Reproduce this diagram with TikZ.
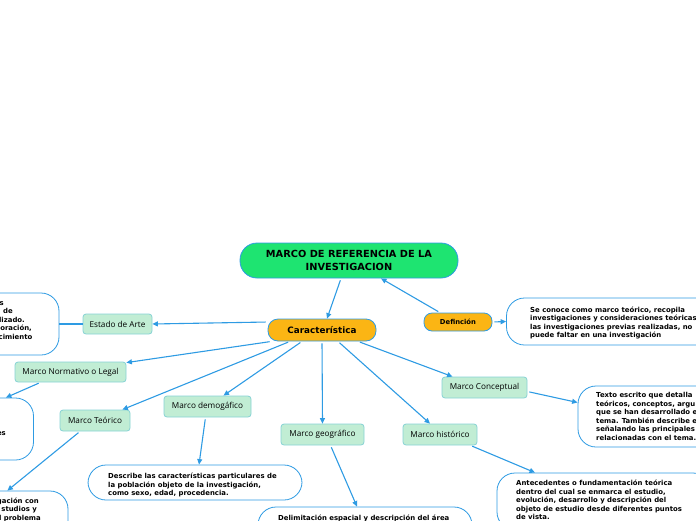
\documentclass[tikz,border=0pt]{standalone}
\usepackage{fontspec}
\setmainfont{DejaVu Sans}
\newfontfamily\labfont{Open Sans}
\usetikzlibrary{arrows.meta}
\definecolor{lnk}{HTML}{2E9BE3}
\definecolor{rootg}{HTML}{1EE471}
\definecolor{orng}{HTML}{FBB514}
\definecolor{lgreen}{HTML}{C1EDD4}
\definecolor{lbord}{HTML}{86D2D4}
\begin{document}
\begin{tikzpicture}[x=1pt,y=-1pt,
  rootbox/.style={draw=lnk, fill=rootg, line width=0.8pt, rounded corners=17pt, minimum width=218pt, minimum height=35pt, align=center, inner sep=0pt, font=\bfseries\fontsize{9.8}{12.5}\selectfont},
  orbox/.style={draw=lnk, fill=orng, line width=0.8pt, inner sep=0pt, font=\bfseries},
  lbl/.style={draw=lbord, fill=lgreen, line width=0.8pt, rounded corners=3pt, inner sep=0pt, font=\labfont\fontsize{8.2}{10}\selectfont},
  descbox/.style={draw=lnk, fill=white, line width=0.8pt, rounded corners=18pt, inner sep=0pt, minimum width=214pt},
  dtext/.style={inner sep=0pt, align=left, font=\bfseries\fontsize{6.9}{8.6}\selectfont},
  frag/.style={inner sep=0pt, anchor=base east, font=\bfseries\fontsize{6.9}{8.6}\selectfont},
  conn/.style={draw=lnk, line width=1.1pt, -{Triangle[length=5.5pt,width=5pt]}, shorten <=2pt},
  plainconn/.style={draw=lnk, line width=1.1pt}
]
\useasboundingbox (0,0) rectangle (696,520);
\clip (0,0) rectangle (696,520);

% main nodes
\node[rootbox] (root) at (349,260.5) {MARCO DE REFERENCIA DE LA\\INVESTIGACION};
\node[orbox, rounded corners=10pt, minimum width=108pt, minimum height=22pt, font=\bfseries\fontsize{8.8}{10}\selectfont] (car) at (322,330) {Característica};
\node[orbox, rounded corners=8pt, minimum width=68pt, minimum height=18pt, font=\bfseries\fontsize{6.8}{8}\selectfont] (def) at (458,322) {Definción};

% labels
\node[lbl, minimum width=69pt, minimum height=20pt] (estado) at (117.5,324) {Estado de Arte};
\node[lbl, minimum width=111pt, minimum height=20pt] (norm) at (70.5,372) {Marco Normativo o Legal};
\node[lbl, minimum width=70pt, minimum height=21pt] (teo) at (95,420.5) {Marco Teórico};
\node[lbl, minimum width=87pt, minimum height=21pt] (dem) at (207.5,406.5) {Marco demogáfico};
\node[lbl, minimum width=83pt, minimum height=21pt] (geo) at (322.5,434.5) {Marco geográfico};
\node[lbl, minimum width=74pt, minimum height=21pt] (hist) at (440,434.5) {Marco histórico};
\node[lbl, minimum width=85pt, minimum height=21pt] (conc) at (484.5,387.5) {Marco Conceptual};

% description boxes
\node[descbox, minimum height=47pt] (defdesc) at (613.5,321.5) {};
\node[descbox, minimum height=62pt] (lbox1) at (-48,324) {};
\node[descbox, minimum height=62pt] (lbox2) at (-73.5,429) {};
\node[descbox, minimum height=49pt] (lbox3) at (-39,515.5) {};
\node[descbox, minimum height=35pt] (demdesc) at (195,482.5) {};
\node[descbox, minimum height=38pt] (geodesc) at (365,526) {};
\node[descbox, minimum height=57pt] (histdesc) at (604,501.5) {};
\node[descbox, minimum height=61pt] (concdesc) at (685,416.5) {};

% description texts (anchored at the baseline of their last line)
\node[dtext, anchor=base west] (tdef) at (530,337.8) {Se conoce como marco teórico, recopila\\investigaciones y consideraciones teóricas\\las investigaciones previas realizadas, no\\puede faltar en una investigación};
\node[dtext, anchor=base west] (tconc) at (596,440.5) {Texto escrito que detalla\\teóricos, conceptos, argu\\que se han desarrollado e\\tema. También describe e\\señalando las principales\\relacionadas con el tema.};
\node[dtext, anchor=base west] (thist) at (516,519.9) {Antecedentes o fundamentación teórica\\dentro del cual se enmarca el estudio,\\evolución, desarrollo y descripción del\\objeto de estudio desde diferentes puntos\\de vista.};
\node[dtext, anchor=base west] (tdem) at (108,495.7) {Describe las características particulares de\\la población objeto de la investigación,\\como sexo, edad, procedencia.};
\node[dtext, anchor=base west] (tgeo) at (278,520) {Delimitación espacial y descripción del área};

% clipped fragments on the left
\node[frag] (f1) at (4,305.5) {s};
\node[frag] (f2) at (13,313.5) {de};
\node[frag] (f3) at (25,322.5) {lizado.};
\node[frag] (f4) at (32,330.5) {oración,};
\node[frag] (f5) at (32.5,339) {cimiento};
\node[frag] (f6) at (6,435) {es};
\node[frag] (f7) at (39,503) {gación con};
\node[frag] (f8) at (37,511.5) {studios y};
\node[frag] (f9) at (41,520) {l problema};

% connectors
\draw[conn] ([xshift=-8pt]root.south) -- ([xshift=5pt]car.north);
\draw[conn] ([xshift=-18pt]def.north) -- ([xshift=32pt]root.south);
\draw[conn] (def.east) -- (defdesc.west);
\draw[conn] ([yshift=8pt]car.west) -- (estado.east);
\draw[plainconn] (estado.west) -- (lbox1.east);
\draw[conn] ([xshift=4pt]car.south west) -- ([yshift=-1pt]norm.north east);
\draw[conn] ([xshift=-30pt]norm.south) -- ([xshift=-28pt]lbox2.north east);
\draw[conn] ([xshift=-32pt]car.south) -- ([xshift=-8pt]teo.north east);
\draw[conn] ([xshift=-15pt]teo.south) -- ([xshift=-61pt]lbox3.north east);
\draw[conn] ([xshift=-20pt]car.south) -- ([xshift=16pt]dem.north);
\draw[conn] ([xshift=-2pt]dem.south) -- ([xshift=4pt]demdesc.north);
\draw[conn] (car.south) -- (geo.north);
\draw[conn] ([xshift=8pt]geo.south) -- ([xshift=-8pt]geodesc.north);
\draw[conn] ([xshift=16pt]car.south) -- ([xshift=-10pt]hist.north);
\draw[conn] ([xshift=-7pt]hist.south east) -- ([xshift=-69pt]histdesc.north);
\draw[conn] ([xshift=36pt]car.south) -- ([xshift=-32pt]conc.north);
\draw[conn] ([yshift=-4pt]conc.east) -- ([yshift=14pt]concdesc.west);
\end{tikzpicture}
\end{document}
